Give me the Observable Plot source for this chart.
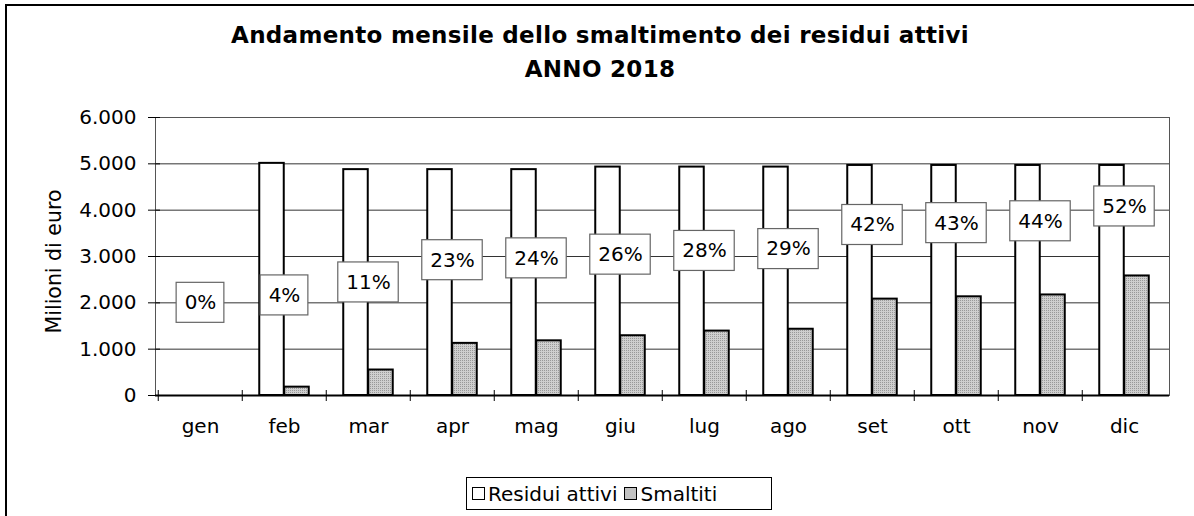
<!DOCTYPE html>
<html><head><meta charset="utf-8">
<script src="https://cdn.jsdelivr.net/npm/d3@7"></script>
<script src="https://cdn.jsdelivr.net/npm/@observablehq/plot@0.6"></script>
<style>
body{margin:0;background:#fff;font-family:"DejaVu Sans",Verdana,sans-serif;color:#000;}
#wrap{position:relative;width:1194px;height:516px;overflow:hidden;background:#fff;}
#wrap svg{position:absolute;left:0;top:0;}
#border{position:absolute;left:5px;top:4px;width:1300px;height:700px;border:2px solid #000;box-sizing:border-box;pointer-events:none;}
.title{position:absolute;left:0;width:1200px;text-align:center;font-weight:bold;font-size:23px;line-height:27px;letter-spacing:0.3px;white-space:nowrap;}
#legend{position:absolute;left:466px;top:477px;width:306px;height:33px;border:1.5px solid #000;box-sizing:border-box;display:flex;align-items:center;padding-left:5px;font-size:20px;white-space:nowrap;background:#fff;}
#legend .sw{display:inline-block;width:13px;height:13px;border:1.5px solid #000;box-sizing:border-box;margin-right:3px;background:#fff;}
#legend .sw.gray{background:#c2c2c2;margin-left:7px;}
</style>
</head><body>
<div id="wrap">
  <div class="title" style="top:22px">Andamento mensile dello smaltimento dei residui attivi</div>
  <div class="title" style="top:56px">ANNO 2018</div>
  <div id="legend"></div>
  <div id="border"></div>
</div>
<script>
const months = ["gen","feb","mar","apr","mag","giu","lug","ago","set","ott","nov","dic"];
const residui = [0, 5010, 4875, 4875, 4875, 4930, 4930, 4930, 4965, 4965, 4965, 4965];
const smaltiti = [0, 180, 550, 1125, 1180, 1290, 1390, 1430, 2080, 2130, 2170, 2580];
const percentuali = [0, 4, 11, 23, 24, 26, 28, 29, 42, 43, 44, 52];
const yTicks = [0, 1000, 2000, 3000, 4000, 5000, 6000];
const seriesNames = ["Residui attivi", "Smaltiti"];
const yLabel = "Milioni di euro";
// hidden secondary axis for the percentage labels: -50% .. 100%
const pctDomain = [-50, 100];

const rows = months.map((m, i) => ({mese: m, residui: residui[i], smaltiti: smaltiti[i], pct: percentuali[i]}));
const yMax = yTicks[yTicks.length - 1];
const pctToY = p => (p - pctDomain[0]) / (pctDomain[1] - pctDomain[0]) * yMax;

const fmt = d3.formatLocale({decimal: ",", thousands: ".", grouping: [3], currency: ["", ""]}).format(",");
const font = "DejaVu Sans, Verdana, sans-serif";

const plot = Plot.plot({
  width: 1194, height: 516,
  marginLeft: 155, marginRight: 25, marginTop: 117, marginBottom: 121,
  style: {fontFamily: font, fontSize: "20px", color: "#000", background: "transparent", overflow: "visible"},
  x: {type: "band", domain: months, padding: 0, label: null},
  y: {domain: [0, yMax], label: null},
  marks: [
    Plot.ruleY(yTicks.slice(1), {stroke: "#333", strokeWidth: 1}),
    Plot.frame({stroke: "#555", strokeWidth: 1}),
    Plot.barY(rows, {x: "mese", y: "residui", fill: "#fff", stroke: "#000", strokeWidth: 2, insetLeft: 17.25, insetRight: 42.25}),
    Plot.barY(rows, {x: "mese", y: "smaltiti", fill: "url(#dots)", stroke: "#000", strokeWidth: 2, insetLeft: 42.25, insetRight: 17.25}),
    Plot.ruleY([0], {stroke: "#000", strokeWidth: 2}),
    Plot.axisY({ticks: yTicks, tickFormat: fmt, tickSize: 0, tickPadding: 19, fontSize: 20, line: true, stroke: "#000", strokeWidth: 2}),
    Plot.axisY({ticks: yTicks, tickFormat: () => "", tickSize: 12, dx: 5, stroke: "#000", strokeWidth: 1}),
    Plot.axisX({tickSize: 0, tickPadding: 23, fontSize: 20}),
    Plot.axisX({tickSize: 11, dy: -5, dx: -42.25, tickFormat: () => "", stroke: "#000", strokeWidth: 1}),
    Plot.text(rows, {x: "mese", y: d => pctToY(d.pct), text: d => d.pct + "%", fontSize: 20, fill: "#000"}),
    Plot.text([yLabel], {frameAnchor: "left", textAnchor: "middle", text: d => d, rotate: -90, dx: -101, dy: 5, fontSize: 20.5, fill: "#000"})
  ]
});

const wrap = document.getElementById("wrap");
wrap.insertBefore(plot, wrap.firstChild);

// pattern for the "Smaltiti" bars
const ns = "http://www.w3.org/2000/svg";
const defs = document.createElementNS(ns, "defs");
defs.innerHTML = '<pattern id="dots" width="2" height="2" patternUnits="userSpaceOnUse"><rect width="2" height="2" fill="#cfcfcf"/><rect width="1" height="1" fill="#999"/></pattern>';
plot.insertBefore(defs, plot.firstChild);

// boxes behind percentage labels
const xs = plot.scale("x"), ys = plot.scale("y");
const labelTexts = Array.from(plot.querySelectorAll("text")).filter(t => /%$/.test(t.textContent) && t.textContent.length < 5);
if (labelTexts.length) {
  const parentG = labelTexts[0].closest("g[aria-label]") || labelTexts[0].parentNode;
  const boxG = document.createElementNS(ns, "g");
  rows.forEach((r, i) => {
    const t = labelTexts[i];
    const w = t.getBBox().width + 16;
    const cx = xs.apply(r.mese) + xs.bandwidth / 2;
    const cy = ys.apply(pctToY(r.pct));
    const rect = document.createElementNS(ns, "rect");
    rect.setAttribute("x", cx - w / 2);
    rect.setAttribute("y", cy - 20);
    rect.setAttribute("width", w);
    rect.setAttribute("height", 40);
    rect.setAttribute("fill", "#fff");
    rect.setAttribute("stroke", "#666");
    rect.setAttribute("stroke-width", 1.2);
    boxG.appendChild(rect);
  });
  parentG.parentNode.insertBefore(boxG, parentG);
}

// legend
const legend = document.getElementById("legend");
seriesNames.forEach((name, i) => {
  const sw = document.createElement("span");
  sw.className = "sw" + (i ? " gray" : "");
  const tx = document.createElement("span");
  tx.textContent = name;
  legend.append(sw, tx);
});
</script>
</body></html>
